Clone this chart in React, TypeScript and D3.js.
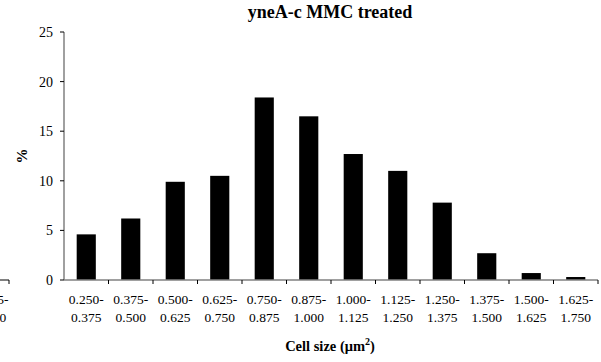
import React from "react";
import * as d3 from "d3";

const categories = [
  ["0.250-", "0.375"], ["0.375-", "0.500"], ["0.500-", "0.625"], ["0.625-", "0.750"],
  ["0.750-", "0.875"], ["0.875-", "1.000"], ["1.000-", "1.125"], ["1.125-", "1.250"],
  ["1.250-", "1.375"], ["1.375-", "1.500"], ["1.500-", "1.625"], ["1.625-", "1.750"],
];
const values = [4.6, 6.2, 9.9, 10.5, 18.4, 16.5, 12.7, 11.0, 7.8, 2.7, 0.7, 0.3];
const yTicks = [0, 5, 10, 15, 20, 25];
const title = "yneA-c MMC treated";
const prevPanelLabel = ["1.625-", "1.750"];

const W = 601, H = 362;
const left = 64, right = 598, top = 32, bottom = 280;
const FONT = "Liberation Serif, Times New Roman, serif";

export default function App() {
  const ids = categories.map((_, i) => String(i));
  const x = d3.scaleBand().domain(ids).range([left, right]).paddingInner(0).paddingOuter(0);
  const y = d3.scaleLinear().domain([0, 25]).range([bottom, top]);
  const bw = x.bandwidth();
  const barW = bw * 0.43;
  const axisColor = "#808080";
  return (
    <svg width={W} height={H} style={{ position: "absolute", left: 0, top: 0, background: "#fff", fontFamily: FONT }}>
      {/* fragment of previous panel at left edge */}
      <line x1={0} x2={9} y1={bottom} y2={bottom} stroke="#000" strokeWidth={1} />
      <line x1={9} x2={9} y1={bottom} y2={bottom + 4} stroke="#000" strokeWidth={1} />
      <text x={-9} y={304} fontSize={13.5} textAnchor="middle">{prevPanelLabel[0]}</text>
      <text x={-9} y={322} fontSize={13.5} textAnchor="middle">{prevPanelLabel[1]}</text>

      <text x={330} y={18} fontSize={18} fontWeight="bold" textAnchor="middle">{title}</text>

      {values.map((v, i) => (
        <rect key={i} x={(x(String(i)) as number) + (bw - barW) / 2} y={y(v)} width={barW} height={y(0) - y(v)} fill="#000" />
      ))}

      <line x1={left} x2={left} y1={top} y2={bottom} stroke={axisColor} strokeWidth={1.5} />
      <line x1={left} x2={right} y1={bottom} y2={bottom} stroke={axisColor} strokeWidth={1.5} />
      {yTicks.map((t) => (
        <g key={t}>
          <line x1={left - 4} x2={left} y1={y(t)} y2={y(t)} stroke="#000" />
          <text x={53} y={y(t) + 5} fontSize={14} textAnchor="end">{t}</text>
        </g>
      ))}
      {categories.map((c, i) => (
        <g key={i}>
          <line x1={(x(String(i)) as number) + bw} x2={(x(String(i)) as number) + bw} y1={bottom} y2={bottom + 4} stroke="#000" />
          <text x={(x(String(i)) as number) + bw / 2} y={304} fontSize={13.5} textAnchor="middle">{c[0]}</text>
          <text x={(x(String(i)) as number) + bw / 2} y={322} fontSize={13.5} textAnchor="middle">{c[1]}</text>
        </g>
      ))}
      <text transform={`translate(27,156) rotate(-90)`} fontSize={15} fontWeight="bold" textAnchor="middle">%</text>
      <text x={330} y={351} fontSize={14.5} fontWeight="bold" textAnchor="middle">
        Cell size (μm<tspan dy={-6} fontSize={10}>2</tspan><tspan dy={6}>)</tspan>
      </text>
    </svg>
  );
}
